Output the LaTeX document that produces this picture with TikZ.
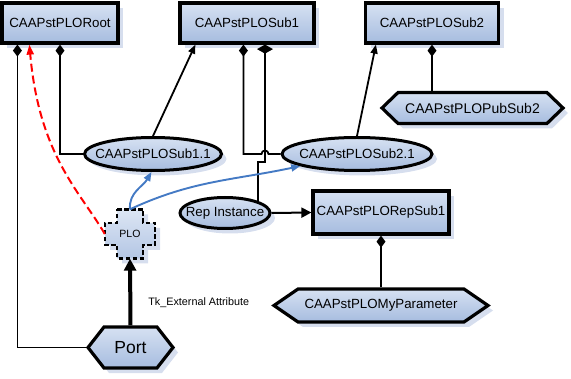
\documentclass[tikz,border=0pt]{standalone}
\usepackage{fontspec}
\setmainfont{Liberation Sans}
\usetikzlibrary{shapes.geometric,shapes.symbols,arrows.meta,shadows}
\definecolor{fillTop}{RGB}{214,225,242}
\definecolor{fillBottom}{RGB}{166,188,223}
\definecolor{shadowBlue}{RGB}{214,222,238}
\definecolor{linkBlue}{RGB}{68,122,196}
\newcommand{\ovaltext}[1]{\makebox[0pt]{#1}}
\tikzstyle{node_class} = [rectangle, draw, line width=3.2pt, top color=fillTop, bottom color=fillBottom, drop shadow={shadow xshift=5pt, shadow yshift=-5pt, fill=shadowBlue, opacity=1}, inner sep=0pt, minimum height=40pt, font=\fontsize{13.3}{16}\selectfont]
\tikzstyle{node_inst} = [ellipse, draw, line width=3pt, top color=fillTop, bottom color=fillBottom, drop shadow={shadow xshift=5pt, shadow yshift=-5pt, fill=shadowBlue, opacity=1}, inner sep=0pt, minimum height=33pt, font=\fontsize{13.3}{16}\selectfont]
\tikzstyle{node_param} = [signal, signal to=west and east, draw, line width=3.2pt, top color=fillTop, bottom color=fillBottom, drop shadow={shadow xshift=5pt, shadow yshift=-5pt, fill=shadowBlue, opacity=1}, inner sep=0pt, font=\fontsize{13.3}{16}\selectfont]
\tikzstyle{node_plo} = [rectangle, inner sep=0pt, minimum width=50pt, minimum height=49pt, font=\fontsize{10.5}{12}\selectfont]
\tikzstyle{plo_outline} = [draw, line width=2.2pt, dash pattern=on 4.5pt off 2.5pt, top color=fillTop!85!white, bottom color=fillBottom!85!white, drop shadow={shadow xshift=5pt, shadow yshift=-5pt, fill=shadowBlue, opacity=1}]
\tikzstyle{node_label} = [inner sep=0pt, font=\fontsize{10.8}{12}\selectfont]
\tikzstyle{edge_comp} = [-{Diamond[length=12pt,width=9pt]}, line width=1.8pt]
\tikzstyle{edge_comp_wide} = [-{Diamond[length=9pt,width=16pt]}, line width=1.8pt]
\tikzstyle{edge_assoc} = [-{Triangle[length=9pt,width=7pt]}, line width=1.8pt]
\tikzstyle{edge_assoc_big} = [-{Triangle[length=10pt,width=10pt]}, line width=2pt]
\tikzstyle{edge_dep} = [-{Triangle[length=10pt,width=7pt]}, red, line width=2pt, dash pattern=on 8pt off 4pt]
\tikzstyle{edge_link} = [-{Triangle[length=9pt,width=7pt]}, linkBlue, line width=1.9pt]
\tikzstyle{edge_ext} = [-{Triangle[length=12pt,width=12pt]}, line width=4pt]

\begin{document}
\begin{tikzpicture}[x=1pt,y=1pt]
	\useasboundingbox (0,0) rectangle (571,378);
	% classes
	\node (Root) at (60,355) [node_class, minimum width=116pt] {CAAPstPLORoot};
	\node (Sub1) at (247,355) [node_class, minimum width=134pt] {CAAPstPLOSub1};
	\node (Sub2) at (432,355) [node_class, minimum width=133pt] {CAAPstPLOSub2};
	\node (RepSub1) at (381,165.5) [node_class, minimum width=136pt, minimum height=43pt] {CAAPstPLORepSub1};
	% instances
	\node (Sub11) at (153,224) [node_inst, minimum width=137pt] {\ovaltext{CAAPstPLOSub1.1}};
	\node (Sub21) at (357,224) [node_inst, minimum width=150pt] {\ovaltext{CAAPstPLOSub2.1}};
	\node (Rep) at (225,165) [node_inst, minimum width=90pt, minimum height=31pt] {\ovaltext{Rep Instance}};
	% parameters
	\node (PubSub2) at (472.5,270) [node_param, minimum width=181pt, minimum height=31pt, signal pointer angle=88, font=\fontsize{14}{16}\selectfont] {CAAPstPLOPubSub2};
	\node (MyParam) at (381,72.5) [node_param, minimum width=214pt, minimum height=33pt, signal pointer angle=69] {CAAPstPLOMyParameter};
	\node (Port) at (130.5,30.5) [node_param, minimum width=85pt, minimum height=41pt, signal pointer angle=104, font=\fontsize{17.5}{20}\selectfont] {Port};
	% PLO cross
	\coordinate (plo_c) at (130,144);
	\draw[plo_outline] (plo_c) ++(-13,24.5) -- ++(26,0) -- ++(0,-13.5) -- ++(12,0) -- ++(0,-22) -- ++(-12,0) -- ++(0,-13.5) -- ++(-26,0) -- ++(0,13.5) -- ++(-12,0) -- ++(0,22) -- ++(12,0) -- cycle;
	\node (PLO) at (plo_c) [node_plo] {PLO};
	% links
	\coordinate (hop) at (265,224);
	\coordinate (bend) at (265,216);
	\draw[edge_comp] (Port.west) -| ([xshift=17pt]Root.south west);
	\draw[edge_comp] (Sub11.west) -| (Root.south);
	\draw[edge_dep] (PLO.west) to[out=120, in=-85, out looseness=0.6, in looseness=1.4] ([xshift=29pt]Root.south west);
	\draw[edge_assoc] (Sub11.north) -- ([xshift=17pt]Sub1.south west);
	\draw[edge_comp] (Sub21.west) -- ([xshift=3.5pt]hop) arc[start angle=0, end angle=180, radius=3.5pt] -| ([xshift=65pt]Sub1.south west);
	\draw[edge_comp_wide] (Rep.20) |- (bend) -- (bend |- Sub1.south);
	\draw[edge_assoc] (Sub21.north) -- ([xshift=12pt]Sub2.south west);
	\draw[edge_comp] (Sub2.south |- PubSub2.north) -- (Sub2.south);
	\draw[edge_assoc_big] (Rep.east) -- (RepSub1.west);
	\draw[edge_comp] (RepSub1.south |- MyParam.north) -- (RepSub1.south);
	\draw[edge_ext] (Port.north) -- (PLO.south) node (ext_label) [node_label, pos=0.34, right=16pt] {Tk\_External Attribute};
	\draw[edge_link] (PLO.north) to[out=95, in=-120] (Sub11.265);
	\draw[edge_link] (PLO.north) to[out=25, in=192] (Sub21.192);
\end{tikzpicture}
\end{document}
